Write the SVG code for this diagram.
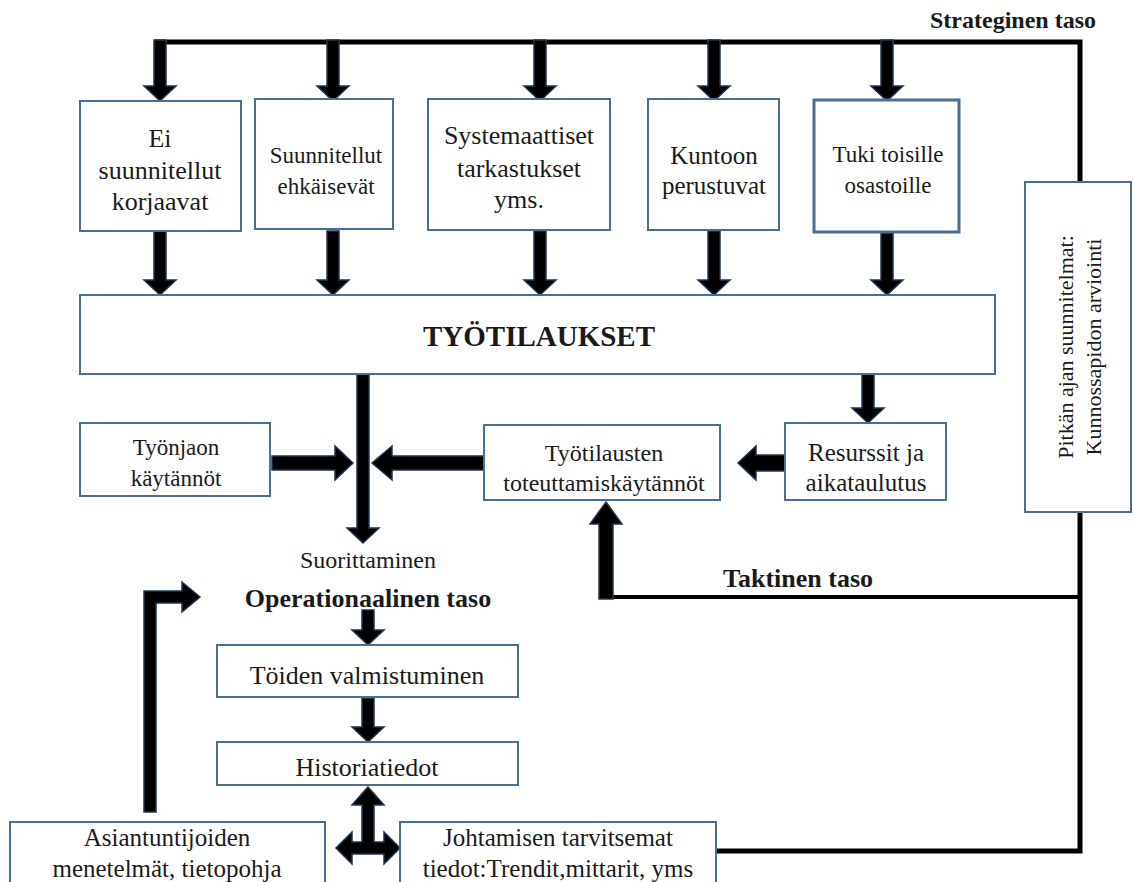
<svg xmlns="http://www.w3.org/2000/svg" width="1133" height="882" viewBox="0 0 1133 882">
<style>
.box{fill:#fff;stroke:#4a6f91;stroke-width:2}
.thick{stroke-width:3}
.t{font-family:"Liberation Serif","Times New Roman",serif;font-size:24px;fill:#1a1a1a;text-anchor:middle}
.f22{font-size:22px}
.f23{font-size:23px}
.f25{font-size:25px}
.f26{font-size:26px}
.f29{font-size:29px}
.b{font-weight:bold}
.arr{fill:#000;stroke:#1f3550;stroke-width:1.5;stroke-linejoin:miter}
.ln{fill:none;stroke:#000;stroke-width:5}
.ln4{stroke-width:4}
</style>
<rect width="1133" height="882" fill="#fff"/>
<g id="connectors">
<path class="ln" d="M155 42 H1080 V851 H716"/>
<path class="ln ln4" d="M600 597 H1080"/>
<polygon class="arr" points="154,40 166,40 166,86 176,86 160,101 144,86 154,86"/>
<polygon class="arr" points="327,40 339,40 339,86 349,86 333,101 317,86 327,86"/>
<polygon class="arr" points="534,40 546,40 546,86 556,86 540,101 524,86 534,86"/>
<polygon class="arr" points="708,40 720,40 720,86 730,86 714,101 698,86 708,86"/>
<polygon class="arr" points="881,40 893,40 893,86 903,86 887,101 871,86 881,86"/>
<polygon class="arr" points="154,231 166,231 166,280 176,280 160,295 144,280 154,280"/>
<polygon class="arr" points="327,231 339,231 339,280 349,280 333,295 317,280 327,280"/>
<polygon class="arr" points="534,231 546,231 546,280 556,280 540,295 524,280 534,280"/>
<polygon class="arr" points="708,231 720,231 720,280 730,280 714,295 698,280 708,280"/>
<polygon class="arr" points="881,231 893,231 893,280 903,280 887,295 871,280 881,280"/>
<polygon class="arr" points="357,374 369,374 369,528 379,528 363,543 347,528 357,528"/>
<polygon class="arr" points="862,374 874,374 874,408 884,408 868,423 852,408 862,408"/>
<polygon class="arr" points="272,456 335,456 335,446 353,463 335,480 335,470 272,470"/>
<polygon class="arr" points="484,456 392,456 392,446 372,463 392,480 392,470 484,470"/>
<polygon class="arr" points="785,455 756,455 756,446 738,463 756,480 756,471 785,471"/>
<polygon class="arr" points="599,599 613,599 613,524 622,524 606,502 590,524 599,524"/>
<polygon class="arr" points="362,610 374,610 374,630 384,630 368,645 352,630 362,630"/>
<polygon class="arr" points="362,698 374,698 374,727 384,727 368,742 352,727 362,727"/>
<polygon class="arr" points="368,787 384,805 374,805 374,842 384,842 384,832 400,848 384,864 384,854 352,854 352,864 336,848 352,832 352,842 362,842 362,805 352,805"/>
<polygon class="arr" points="144,812 144,591 182,591 182,582 200,597 182,612 182,603 156,603 156,812"/>
</g>
<g id="n1"><rect class="box" x="80" y="101" width="161" height="130"/>
<text class="t f26" x="160" y="147">Ei</text><text class="t f26" x="160" y="179">suunnitellut</text><text class="t f26" x="160" y="210">korjaavat</text></g>
<g id="n2"><rect class="box" x="255" y="99" width="138" height="130"/>
<text class="t f23" x="326" y="163">Suunnitellut</text><text class="t f23" x="326" y="194">ehkäisevät</text></g>
<g id="n3"><rect class="box" x="428" y="99" width="182" height="131"/>
<text class="t f26" x="519" y="144">Systemaattiset</text><text class="t f26" x="519" y="177">tarkastukset</text><text class="t f26" x="519" y="208">yms.</text></g>
<g id="n4"><rect class="box" x="648" y="99" width="131" height="131"/>
<text class="t f25" x="714" y="164">Kuntoon</text><text class="t f25" x="714" y="194">perustuvat</text></g>
<g id="n5"><rect class="box thick" x="814" y="100" width="145" height="132"/>
<text class="t f23" x="888" y="162">Tuki toisille</text><text class="t f23" x="888" y="193">osastoille</text></g>
<g id="tyotilaukset"><rect class="box" x="80" y="295" width="915" height="79"/>
<text class="t b f29" x="539" y="346">TYÖTILAUKSET</text></g>
<g id="tyonjaon"><rect class="box" x="80" y="423" width="190" height="73"/>
<text class="t f23" x="176" y="455">Työnjaon</text><text class="t f23" x="176" y="486">käytännöt</text></g>
<g id="toteuttamis"><rect class="box" x="484" y="425" width="236" height="75"/>
<text class="t" x="604" y="461">Työtilausten</text><text class="t" x="604" y="491">toteuttamiskäytännöt</text></g>
<g id="resurssit"><rect class="box" x="785" y="423" width="161" height="77"/>
<text class="t f25" x="866" y="461">Resurssit ja</text><text class="t f25" x="866" y="491">aikataulutus</text></g>
<g id="pitkan"><rect class="box" x="1025" y="182" width="106" height="330"/>
<text class="t f22" x="1073" y="347" transform="rotate(-90 1073 347)">Pitkän  ajan  suunnitelmat:</text>
<text class="t f22" x="1101" y="347" transform="rotate(-90 1101 347)">Kunnossapidon  arviointi</text></g>
<g id="labels">
<text class="t b" x="1013" y="28">Strateginen taso</text>
<text class="t b f26" x="798" y="587">Taktinen  taso</text>
<text class="t" x="368" y="568">Suorittaminen</text>
<text class="t b f26" x="368" y="607">Operationaalinen  taso</text>
</g>
<g id="toiden"><rect class="box" x="217" y="645" width="301" height="52"/>
<text class="t f26" x="367" y="684">Töiden valmistuminen</text></g>
<g id="historia"><rect class="box" x="217" y="742" width="301" height="43"/>
<text class="t f26" x="367" y="776">Historiatiedot</text></g>
<g id="asiantuntijoiden"><rect class="box" x="10" y="822" width="315" height="62"/>
<text class="t f25" x="167" y="846">Asiantuntijoiden</text><text class="t f25" x="167" y="877">menetelmät,  tietopohja</text></g>
<g id="johtamisen"><rect class="box" x="400" y="822" width="316" height="62"/>
<text class="t f25" x="558" y="846">Johtamisen  tarvitsemat</text><text class="t f25" x="558" y="877">tiedot:Trendit,mittarit,  yms</text></g>
</svg>
